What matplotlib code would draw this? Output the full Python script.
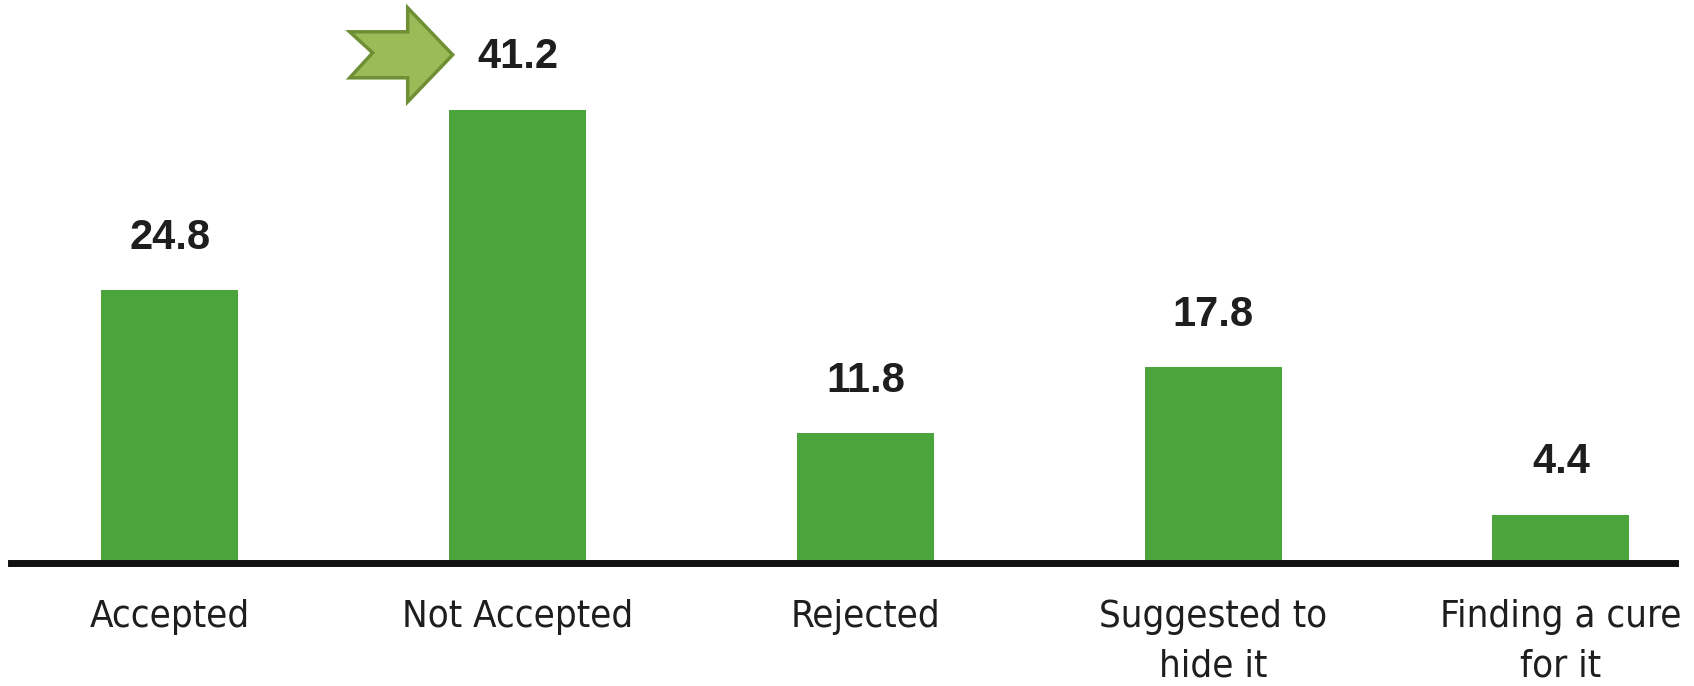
import matplotlib
matplotlib.use("Agg")
import matplotlib.pyplot as plt
from matplotlib.patches import Polygon

categories = ["Accepted", "Not Accepted", "Rejected", "Suggested to\nhide it", "Finding a cure\nfor it"]
values = [24.8, 41.2, 11.8, 17.8, 4.4]
highlight = 1  # bar marked with the arrow

BAR_COLOR = "#4ca43c"
TEXT_COLOR = "#1e1e1e"

fig = plt.figure(figsize=(16.94, 6.86), dpi=100)
ax = fig.add_axes([11 / 1694, 123 / 686, 1664 / 1694, 563 / 686])

x = range(len(values))
ax.bar(x, values, width=0.394, color=BAR_COLOR, zorder=2)

ax.set_xlim(-0.457, 4.328)
ax.set_ylim(0, 563 / 11.0)

# value labels above each bar
for xi, v in zip(x, values):
    ax.annotate(f"{v}", (xi, v), xytext=(0, 30), textcoords="offset points",
                ha="center", va="baseline", fontsize=30, fontweight="bold",
                family=["Liberation Sans", "DejaVu Sans"], color=TEXT_COLOR)

# green block arrow pointing at the highlighted value
hx, hv = highlight, values[highlight]
sx = 1 / 347.75   # data units per pixel, x
sy = 1 / 11.0     # data units per pixel, y
arrow = [(-168, 78), (-145, 57), (-168, 32), (-110, 32), (-110, 8),
         (-65, 55), (-110, 102), (-110, 78)]
pts = [(hx + px * sx, hv + py * sy) for px, py in arrow]
ax.add_patch(Polygon(pts, closed=True, facecolor="#9bbb59", edgecolor="#6f8f35",
                     linewidth=2.5, clip_on=False, zorder=3))

for s in ["top", "left", "right"]:
    ax.spines[s].set_visible(False)
ax.spines["bottom"].set_linewidth(5.0)
ax.spines["bottom"].set_color("#111111")
ax.spines["bottom"].set_zorder(4)

ax.set_yticks([])
ax.set_xticks(list(x))
ax.set_xticklabels(categories, fontsize=27.5, color=TEXT_COLOR,
                   family="DejaVu Sans", stretch="condensed",
                   linespacing=1.48)
ax.tick_params(axis="x", length=0, pad=26)

fig.savefig("out.png", dpi=100, facecolor="white")
